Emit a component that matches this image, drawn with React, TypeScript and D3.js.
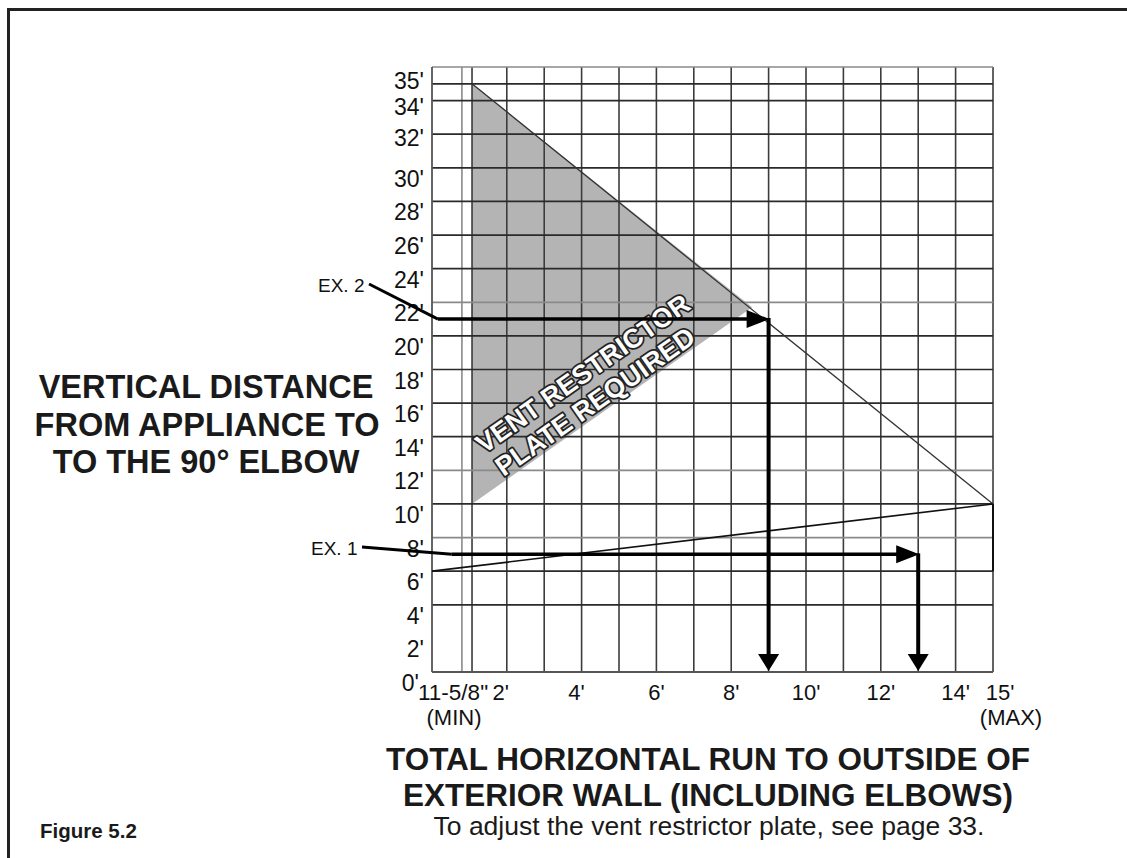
import React from 'react';
import * as d3 from 'd3';

// grid lines (feet)
const xGrid = [0.8, 1.07, 2, 3, 4, 5, 6, 7, 8, 9, 10, 11, 12, 13, 14, 15];
const xGridLight = [0.8];
const yGrid = [4, 6, 8, 10, 12, 14, 16, 18, 20, 22, 24, 26, 28, 30, 32, 34, 35, 36];
const yGridLight = [8, 12, 22, 36];

// tick labels
const yTicks = [0, 2, 4, 6, 8, 10, 12, 14, 16, 18, 20, 22, 24, 26, 28, 30, 32, 34, 35];
const xTicks = [2, 4, 6, 8, 10, 12, 14, 15];
const minRun = 1.07; // 11-5/8"
const maxRun = 15;

// restrictor plate zone and limit lines
const plateZone: [number, number][] = [[minRun, 35], [8.56, 21.7], [minRun, 10]];
const upperLimit: [number, number][] = [[minRun, 35], [maxRun, 10]];
const lowerLimit: [number, number][] = [[0, 6], [maxRun, 10]];
const rightBox: [number, number][] = [[maxRun, 10], [maxRun, 6]];

// examples: vertical rise, horizontal run
const examples = [
  { name: 'EX. 1', rise: 7, run: 13, start: 0.53 },
  { name: 'EX. 2', rise: 21, run: 9, start: 0.16 },
];

const W = 1127, H = 858;
const font = 'Arial, "Liberation Sans", Helvetica, sans-serif';

export default function App() {
  const x = d3.scaleLinear().domain([0, 15]).range([432, 993]);
  const y = d3.scaleLinear().domain([0, 36]).range([672, 67]);
  const line = d3.line<[number, number]>().x(d => x(d[0])).y(d => y(d[1]));

  const yLabelOffset = (v: number) => (v === 35 ? -3 : v === 34 ? 6 : v === 32 ? 4 : 11);
  const xLabelOffset = (v: number) => (v === 2 ? -6 : v === 4 ? -5 : v === 15 ? 7 : 0);

  // angle of the zone's lower edge, for the label
  const ang = Math.atan2(y(plateZone[1][1]) - y(plateZone[2][1]), x(plateZone[1][0]) - x(plateZone[2][0])) * 180 / Math.PI;

  const arrowRight = (tx: number, ty: number) => `M${tx},${ty} L${tx - 23},${ty - 9} L${tx - 23},${ty + 9} Z`;
  const arrowDown = (tx: number, ty: number) => `M${tx},${ty} L${tx - 10.5},${ty - 17} L${tx + 10.5},${ty - 17} Z`;

  return (
    <svg width={W} height={H} style={{ position: 'absolute', left: 0, top: 0, background: '#fff' }} fontFamily={font}>
      {/* page frame */}
      <line x1={7} y1={9.5} x2={W} y2={9.5} stroke="#222" strokeWidth={3} />
      <line x1={8.5} y1={8} x2={8.5} y2={H} stroke="#222" strokeWidth={3} />

      {/* shaded zone */}
      <path d={line(plateZone) + 'Z'} fill="#b4b4b4" />

      {/* grid */}
      {xGrid.map(v => (
        <line key={'vx' + v} x1={x(v)} x2={x(v)} y1={y(36)} y2={y(0)}
          stroke={xGridLight.includes(v) ? '#8a8a8a' : '#3c3c3c'} strokeWidth={1.6} />
      ))}
      {yGrid.map(v => (
        <line key={'hy' + v} x1={x(0)} x2={x(15)} y1={y(v)} y2={y(v)}
          stroke={yGridLight.includes(v) ? '#8a8a8a' : '#2a2a2a'} strokeWidth={1.7} />
      ))}
      {/* axes */}
      <line x1={x(0)} x2={x(0)} y1={y(36)} y2={y(0)} stroke="#555" strokeWidth={1.8} />
      <line x1={x(0)} x2={x(15)} y1={y(0)} y2={y(0)} stroke="#555" strokeWidth={1.8} />

      {/* limit lines */}
      <path d={line(upperLimit)!} stroke="#333" strokeWidth={1.3} fill="none" />
      <path d={line(lowerLimit)!} stroke="#111" strokeWidth={1.6} fill="none" />
      <path d={line(rightBox)!} stroke="#111" strokeWidth={2} fill="none" />

      {/* zone label */}
      <g transform={`translate(${x(4.05)},${y(17.7)}) rotate(${ang})`} fontWeight="bold" fontSize={27}
        fill="#fff" stroke="#222" strokeWidth={3.5} paintOrder="stroke" strokeLinejoin="round" textAnchor="middle">
        <text x={0} y={8}>VENT RESTRICTOR</text>
        <text x={-6} y={38}>PLATE REQUIRED</text>
      </g>

      {/* y labels */}
      {yTicks.map(v => (
        <text key={'yl' + v} x={v === 0 ? 419 : 424} y={y(v) + yLabelOffset(v) + 8} textAnchor="end" fontSize={23} fill="#111">
          {v}'
        </text>
      ))}
      {/* x labels */}
      <text x={418} y={700} fontSize={22.5} fill="#111">11-5/8"</text>
      {xTicks.map(v => (
        <text key={'xl' + v} x={x(v) + xLabelOffset(v)} y={700} textAnchor="middle" fontSize={22} fill="#111">
          {v}'
        </text>
      ))}
      <text x={x(0) + 22} y={725} textAnchor="middle" fontSize={22} fill="#111">(MIN)</text>
      <text x={x(maxRun) + 18} y={725} textAnchor="middle" fontSize={22} fill="#111">(MAX)</text>

      {/* examples */}
      {examples.map((e, i) => {
        const hy = y(e.rise), vx = x(e.run);
        const tx = i === 0 ? 311 : 318;
        const ty = i === 0 ? 548 : 285;
        return (
          <g key={e.name}>
            <text x={tx} y={ty + 7} fontSize={19} fill="#111">{e.name}</text>
            <path d={`M${tx + 51},${ty - 1} L${x(e.start)},${hy}`}
              stroke="#000" strokeWidth={3} fill="none" />
            <line x1={x(e.start)} x2={vx - 20} y1={hy} y2={hy} stroke="#000" strokeWidth={3.5} />
            <path d={arrowRight(vx + 1, hy)} fill="#000" />
            <line x1={vx} x2={vx} y1={hy - 1} y2={y(0) - 15} stroke="#000" strokeWidth={4} />
            <path d={arrowDown(vx, y(0) - 1)} fill="#000" />
          </g>
        );
      })}

      {/* titles */}
      <g fontWeight="bold" fill="#1a1a1a" textAnchor="middle">
        <g fontSize={32.5}>
          <text x={206} y={398}>VERTICAL DISTANCE</text>
          <text x={207} y={436}>FROM APPLIANCE TO</text>
          <text x={206} y={473}>TO THE 90° ELBOW</text>
        </g>
        <g fontSize={31.5}>
          <text x={708} y={770}>TOTAL HORIZONTAL RUN TO OUTSIDE OF</text>
          <text x={708} y={806}>EXTERIOR WALL (INCLUDING ELBOWS)</text>
        </g>
      </g>
      <text x={709} y={835} textAnchor="middle" fontSize={26.5} fill="#1a1a1a">To adjust the vent restrictor plate, see page 33.</text>
      <text x={40} y={838} fontWeight="bold" fontSize={20.5} fill="#1a1a1a">Figure 5.2</text>
    </svg>
  );
}
